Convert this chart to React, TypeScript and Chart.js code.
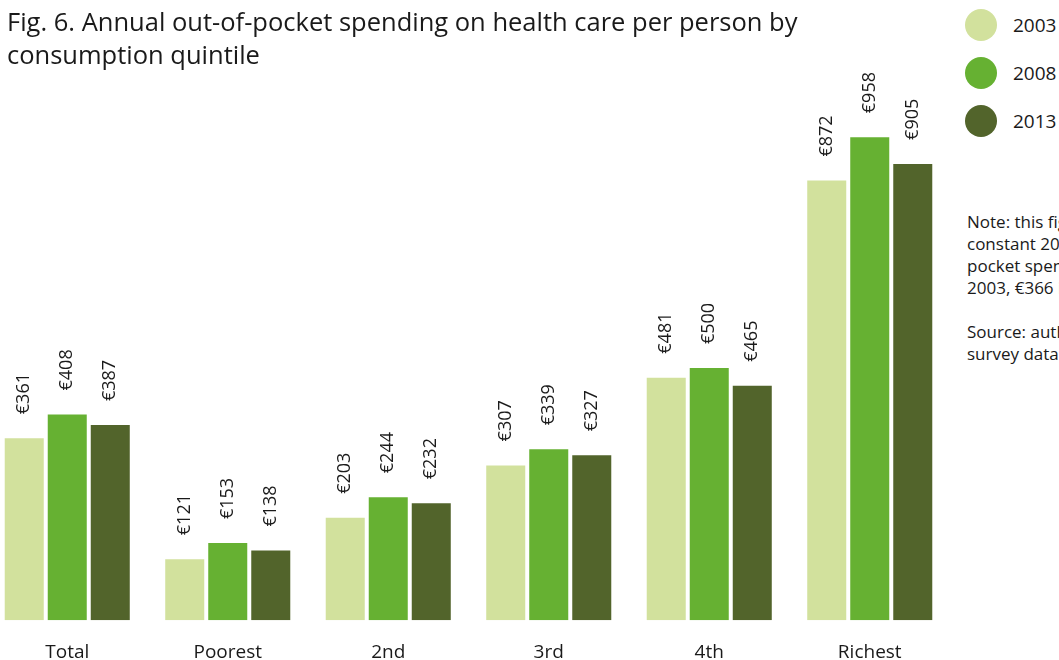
import React, { useEffect, useRef } from "react";
import { Chart, registerables } from "chart.js";

Chart.register(...registerables);

const categories = ["Total", "Poorest", "2nd", "3rd", "4th", "Richest"];
const years = ["2003", "2008", "2013"];
const values2003 = [361, 121, 203, 307, 481, 872];
const values2008 = [408, 153, 244, 339, 500, 958];
const values2013 = [387, 138, 232, 327, 465, 905];
const colors = ["#d2e19d", "#66b132", "#52642b"];
const titleLines = [
  "Fig. 6. Annual out-of-pocket spending on health care per person by",
  "consumption quintile",
];
const noteLines = [
  "Note: this figure is in",
  "constant 2013 prices. Out-of-",
  "pocket spending per person in",
  "2003, €366 in 2008 and €387",
];
const sourceLines = ["Source: authors' calculations from", "survey data"];

const FONT = "'Open Sans', 'Noto Sans', sans-serif";

const valueLabels = {
  id: "valueLabels",
  afterDatasetsDraw(chart: any) {
    const ctx = chart.ctx;
    ctx.save();
    ctx.fillStyle = "#1a1a1a";
    ctx.font = `18px ${FONT}`;
    ctx.textAlign = "left";
    ctx.textBaseline = "middle";
    chart.data.datasets.forEach((ds: any, di: number) => {
      const meta = chart.getDatasetMeta(di);
      meta.data.forEach((el: any, i: number) => {
        ctx.save();
        ctx.translate(el.x, el.y - 24);
        ctx.rotate(-Math.PI / 2);
        ctx.fillText(`€${ds.data[i]}`, 0, 0);
        ctx.restore();
      });
    });
    ctx.restore();
  },
};

export default function App() {
  const ref = useRef<HTMLCanvasElement>(null);
  useEffect(() => {
    if (!ref.current) return;
    const series = [values2003, values2008, values2013];
    const chart = new Chart(ref.current, {
      type: "bar",
      data: {
        labels: categories,
        datasets: years.map((y, i) => ({
          label: y,
          data: series[i],
          backgroundColor: colors[i],
          borderWidth: 0,
          categoryPercentage: 0.804,
          barPercentage: 0.907,
        })),
      },
      options: {
        responsive: false,
        animation: false,
        maintainAspectRatio: false,
        layout: { padding: { left: 0, right: 12, top: 116, bottom: 0 } },
        plugins: {
          legend: { display: false },
          tooltip: { enabled: false },
          title: { display: false },
        },
        scales: {
          x: {
            grid: { display: false },
            border: { display: false },
            ticks: {
              color: "#1a1a1a",
              font: { family: FONT, size: 19 },
              padding: 13,
              maxRotation: 0,
            },
          },
          y: {
            display: false,
            min: 0,
            max: 1000,
          },
        },
      },
      plugins: [valueLabels],
    });
    return () => chart.destroy();
  }, []);

  return (
    <div
      style={{
        position: "fixed",
        left: 0,
        top: 0,
        width: 1059,
        height: 660,
        overflow: "hidden",
        background: "#fff",
        fontFamily: FONT,
        color: "#1a1a1a",
      }}
    >
      <canvas
        ref={ref}
        width={975}
        height={677}
        style={{ position: "absolute", left: -13, top: 0, width: 975, height: 677 }}
      />
      <div
        style={{
          position: "absolute",
          left: 7,
          top: 5,
          fontSize: 25.5,
          lineHeight: "33px",
          whiteSpace: "nowrap",
        }}
      >
        {titleLines.map((t) => (
          <div key={t}>{t}</div>
        ))}
      </div>
      {years.map((y, i) => (
        <div
          key={y}
          style={{
            position: "absolute",
            left: 965,
            top: 9 + i * 48,
            height: 32,
            display: "flex",
            alignItems: "center",
            whiteSpace: "nowrap",
          }}
        >
          <span
            style={{
              display: "inline-block",
              width: 32,
              height: 32,
              borderRadius: "50%",
              background: colors[i],
            }}
          />
          <span style={{ marginLeft: 16, fontSize: 19 }}>{y}</span>
        </div>
      ))}
      <div
        style={{
          position: "absolute",
          left: 967,
          top: 211,
          fontSize: 17,
          lineHeight: "22px",
          whiteSpace: "nowrap",
        }}
      >
        {noteLines.map((t) => (
          <div key={t}>{t}</div>
        ))}
        <div style={{ height: 22 }} />
        {sourceLines.map((t) => (
          <div key={t}>{t}</div>
        ))}
      </div>
    </div>
  );
}
